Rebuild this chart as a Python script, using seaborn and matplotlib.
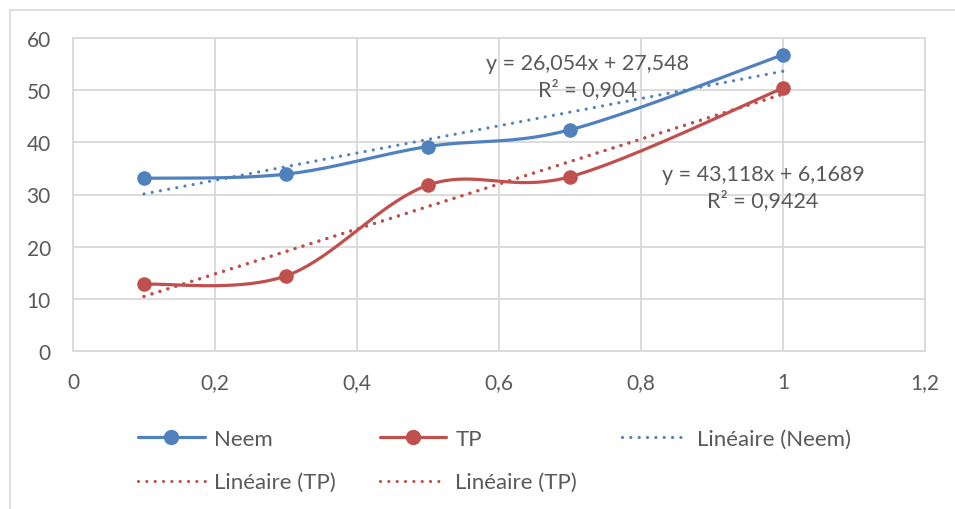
import numpy as np
import pandas as pd
import matplotlib
matplotlib.use("Agg")
import matplotlib.pyplot as plt
from matplotlib.lines import Line2D
from matplotlib.ticker import FuncFormatter, MultipleLocator
import seaborn as sns

# --- data ---
x_vals = [0.1, 0.3, 0.5, 0.7, 1.0]
neem = [33.1, 33.9, 39.2, 42.4, 56.8]
tp = [12.8, 14.4, 31.8, 33.4, 50.4]

neem_eq = "y = 26,054x + 27,548\nR² = 0,904"
tp_eq = "y = 43,118x + 6,1689\nR² = 0,9424"

blue = "#4F81BD"
red = "#C0504D"
grey_txt = "#595959"
grid_col = "#D9D9D9"

sns.set_theme(style="white")
plt.rcParams["font.family"] = ["Lato", "DejaVu Sans"]


def smooth(xs, ys, n=40):
    # Excel-like smoothed line (Catmull-Rom bezier through the points)
    p = np.column_stack([xs, ys]).astype(float)
    p = np.vstack([p[0], p, p[-1]])
    out = []
    for i in range(1, len(p) - 2):
        p0, p1, p2, p3 = p[i - 1], p[i], p[i + 1], p[i + 2]
        c1 = p1 + (p2 - p0) / 6
        c2 = p2 - (p3 - p1) / 6
        t = np.linspace(0, 1, n)[:, None]
        seg = ((1 - t) ** 3) * p1 + 3 * ((1 - t) ** 2) * t * c1 + 3 * (1 - t) * t ** 2 * c2 + t ** 3 * p2
        out.append(seg)
    out = np.vstack(out)
    return out[:, 0], out[:, 1]


fig = plt.figure(figsize=(9.55, 5.1), dpi=100)
ax = fig.add_axes([73 / 955, 1 - 352 / 510, (925 - 73) / 955, (352 - 39) / 510])

lw = 2.3
dots = (0.01, 2.6)

for ys, col in [(neem, blue), (tp, red)]:
    sx, sy = smooth(x_vals, ys)
    sns.lineplot(x=sx, y=sy, sort=False, color=col, lw=lw, ax=ax, zorder=3)
    sns.scatterplot(x=x_vals, y=ys, color=col, s=110, edgecolor=col, linewidth=0, ax=ax, zorder=4)

# linear trendlines (TP trendline appears twice in the original)
x_line = np.array([min(x_vals), max(x_vals)])
for ys, col, reps in [(neem, blue, 1), (tp, red, 2)]:
    a, b = np.polyfit(x_vals, ys, 1)
    for _ in range(reps):
        ax.plot(x_line, a * x_line + b, color=col, lw=lw, linestyle=(0, dots),
                dash_capstyle="round", zorder=2)

ax.set_xlim(0, 1.2)
ax.set_ylim(0, 60)
ax.xaxis.set_major_locator(MultipleLocator(0.2))
ax.yaxis.set_major_locator(MultipleLocator(10))
fmt = FuncFormatter(lambda v, pos: f"{v:g}".replace(".", ","))
ax.xaxis.set_major_formatter(fmt)
ax.yaxis.set_major_formatter(fmt)
ax.tick_params(axis="both", length=0, labelsize=15, labelcolor=grey_txt)
ax.tick_params(axis="x", pad=15)
ax.tick_params(axis="y", pad=16)
ax.grid(True, color=grid_col, lw=1.3)
for s in ax.spines.values():
    s.set_color(grid_col)
    s.set_linewidth(1.3)
ax.set_xlabel("")
ax.set_ylabel("")

ax.annotate(neem_eq, xy=(587, 510 - 77), xycoords="figure pixels", ha="center", va="center",
            fontsize=15.5, color=grey_txt, linespacing=1.3)
ax.annotate(tp_eq, xy=(763, 510 - 188), xycoords="figure pixels", ha="center", va="center",
            fontsize=15.5, color=grey_txt, linespacing=1.3)

# legend
h_neem = Line2D([], [], color=blue, lw=lw, marker="o", markersize=10)
h_tp = Line2D([], [], color=red, lw=lw, marker="o", markersize=10)
h_ln = Line2D([], [], color=blue, lw=lw, linestyle=(0, dots), dash_capstyle="round")
h_lt = Line2D([], [], color=red, lw=lw, linestyle=(0, dots), dash_capstyle="round")
handles = [h_neem, h_lt, h_tp, h_lt, h_ln]
labels = ["Neem", "Linéaire (TP)", "TP", "Linéaire (TP)", "Linéaire (Neem)"]
leg = fig.legend(handles, labels, ncol=3, loc="upper left",
                 bbox_to_anchor=(118 / 955, 1 - 410 / 510), frameon=False,
                 fontsize=16, handlelength=3.0, handletextpad=0.4,
                 columnspacing=2.0, labelspacing=1.05, labelcolor=grey_txt)

# chart area border
fig.add_artist(Line2D([10 / 955, 10 / 955], [0, 1 - 11 / 510], color=grid_col, lw=1.2))
fig.add_artist(Line2D([10 / 955, 1], [1 - 11 / 510, 1 - 11 / 510], color=grid_col, lw=1.2))

fig.savefig("out.png", dpi=100)
